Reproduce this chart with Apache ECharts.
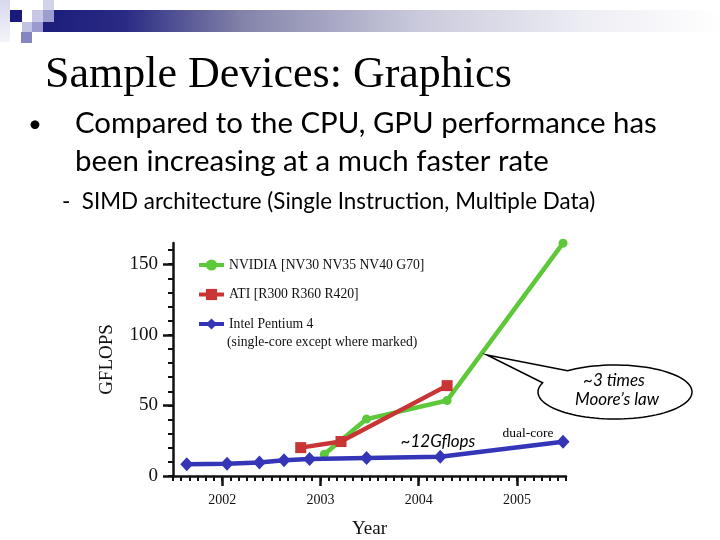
<!DOCTYPE html>
<html>
<head>
<meta charset="utf-8">
<script src="https://cdn.jsdelivr.net/npm/echarts@6/dist/echarts.min.js"></script>
<style>
  html, body { margin: 0; padding: 0; background: #fff; }
  #chart { width: 720px; height: 540px; }
</style>
</head>
<body>
<div id="chart"></div>
<script>
// GFLOPS by release date, [year, gflops]
const nvidiaData = [[2003.04, 15.4], [2003.47, 40.3], [2004.29, 53.5], [2005.47, 164.9]];
const atiData = [[2002.80, 20.1], [2003.21, 24.4], [2004.29, 64.0]];
const intelData = [[2001.64, 8.3], [2002.05, 8.7], [2002.38, 9.5], [2002.63, 11.1],
    [2002.89, 12.1], [2003.47, 12.8], [2004.22, 13.7], [2005.47, 24.2]];

const seriesNames = ['NVIDIA [NV30 NV35 NV40 G70]', 'ATI [R300 R360 R420]', 'Intel Pentium 4'];
const yearTicks = [2002, 2003, 2004, 2005];
const gflopsTicks = [0, 50, 100, 150];

const X_MIN = 2001.5, X_MAX = 2005.5, Y_MIN = 0, Y_MAX = 165;

// month ticks along the year axis, 10-unit ticks along the GFLOPS axis
const monthTicks = [];
for (let k = 0; k <= 48; k++) monthTicks.push(X_MIN + k / 12);
const minorGflops = [];
for (let v = 0; v <= 160; v += 10) minorGflops.push(v);

const serif = '"Liberation Serif", "DejaVu Serif", serif';
const sans = 'Lato, "Open Sans", sans-serif';

// callout bubble outline: ellipse with a tail
function bubble(cx, cy, rx, ry, a1, a2, tip) {
    const pts = [tip];
    const n = 90;
    for (let i = 0; i <= n; i++) {
        const a = (a1 + (a2 - a1) * i / n) * Math.PI / 180;
        pts.push([cx + rx * Math.cos(a), cy + ry * Math.sin(a)]);
    }
    return pts;
}

function axisPair(dim, ticksMinor, ticksMajor, extra) {
    const base = {
        type: 'value',
        min: dim === 'x' ? X_MIN : Y_MIN,
        max: dim === 'x' ? X_MAX : Y_MAX,
        position: dim === 'x' ? 'bottom' : 'left',
        splitLine: { show: false }
    };
    return [
        Object.assign({}, base, {
            axisLine: { show: true, lineStyle: { color: '#111', width: 2.5 } },
            axisTick: { show: true, customValues: ticksMinor, length: 5, lineStyle: { color: '#111', width: 2 } },
            axisLabel: { show: false }
        }),
        Object.assign({}, base, {
            axisLine: { show: false },
            axisTick: { show: true, customValues: ticksMajor, length: 10, lineStyle: { color: '#111', width: 2.5 } },
            axisLabel: Object.assign({
                show: true, customValues: ticksMajor, color: '#111', fontFamily: serif,
                formatter: v => String(Math.round(v))
            }, extra.label)
        }, extra.axis)
    ];
}

const chart = echarts.init(document.getElementById('chart'));

chart.setOption({
    animation: false,
    backgroundColor: '#fff',
    grid: { left: 173, right: 154, top: 243, bottom: 64, containLabel: false },
    xAxis: axisPair('x', monthTicks, yearTicks, {
        label: { fontSize: 14, margin: 17 },
        axis: { name: 'Year', nameLocation: 'middle', nameGap: 44,
            nameTextStyle: { fontFamily: serif, fontSize: 19, color: '#111' } }
    }),
    yAxis: axisPair('y', minorGflops, gflopsTicks, {
        label: { fontSize: 19, margin: 15 },
        axis: { name: 'GFLOPS', nameLocation: 'middle', nameGap: 56, nameRotate: 90,
            nameTextStyle: { fontFamily: serif, fontSize: 19, color: '#111' } }
    }),
    legend: {
        orient: 'vertical',
        left: 197,
        top: 258,
        padding: 0,
        itemWidth: 25,
        itemHeight: 14,
        itemGap: 15.5,
        lineStyle: { width: 4 },
        textStyle: { fontFamily: serif, fontSize: 13.7, color: '#111' },
        data: seriesNames
    },
    series: [
        {
            name: seriesNames[0], type: 'line', data: nvidiaData,
            symbol: 'circle', symbolSize: 9, z: 3,
            itemStyle: { color: '#5cc83a' },
            lineStyle: { color: '#5cc83a', width: 4.5 }
        },
        {
            name: seriesNames[1], type: 'line', data: atiData,
            symbol: 'rect', symbolSize: 11, z: 4,
            itemStyle: { color: '#c93434' },
            lineStyle: { color: '#c93434', width: 4.5 }
        },
        {
            name: seriesNames[2], type: 'line', data: intelData,
            symbol: 'diamond', symbolSize: [13, 14], z: 5,
            itemStyle: { color: '#3535b8' },
            lineStyle: { color: '#3535b8', width: 4.5 }
        }
    ],
    graphic: [
        // header decoration
        { type: 'rect', shape: { x: 43, y: 10, width: 677, height: 22 },
          style: { fill: new echarts.graphic.LinearGradient(0, 0, 1, 0, [
              { offset: 0, color: '#1c1c7c' },
              { offset: 0.12, color: '#2a2a84' },
              { offset: 0.3, color: '#8585ab' },
              { offset: 0.55, color: '#c9c9dc' },
              { offset: 0.8, color: '#ededf4' },
              { offset: 1, color: '#ffffff' }]) } },
        { type: 'rect', shape: { x: 0, y: 0, width: 10, height: 42 },
          style: { fill: new echarts.graphic.LinearGradient(0, 0, 0, 1, [
              { offset: 0, color: '#d8d8ee' }, { offset: 1, color: '#f4f4fa' }]) } },
        { type: 'rect', shape: { x: 10, y: 10, width: 12, height: 12 }, style: { fill: '#1a1a7a' } },
        { type: 'rect', shape: { x: 43, y: 0, width: 11, height: 10 }, style: { fill: '#d2d2ea' } },
        { type: 'rect', shape: { x: 32, y: 10, width: 11, height: 12 }, style: { fill: '#c8c8e6' } },
        { type: 'rect', shape: { x: 43, y: 10, width: 11, height: 12 }, style: { fill: '#9d9dcf' } },
        { type: 'rect', shape: { x: 22, y: 22, width: 10, height: 10 }, style: { fill: '#c2c2e2' } },
        { type: 'rect', shape: { x: 32, y: 22, width: 11, height: 10 }, style: { fill: '#9a9ad0' } },
        { type: 'rect', shape: { x: 21, y: 32, width: 11, height: 11 }, style: { fill: '#8585c2' } },

        // slide text
        { type: 'text', x: 45, y: 75,
          style: { text: 'Sample Devices: Graphics', font: '44px ' + serif, fill: '#000', textVerticalAlign: 'middle' } },
        { type: 'text', x: 28, y: 124,
          style: { text: '•', font: '24px ' + sans, fill: '#000', textVerticalAlign: 'middle' } },
        { type: 'text', x: 75, y: 124,
          style: { text: 'Compared to the CPU, GPU performance has', font: '29.4px ' + sans, fill: '#000', textVerticalAlign: 'middle' } },
        { type: 'text', x: 75, y: 162,
          style: { text: 'been increasing at a much faster rate', font: '29.4px ' + sans, fill: '#000', textVerticalAlign: 'middle' } },
        { type: 'text', x: 62, y: 202,
          style: { text: '-  SIMD architecture (Single Instruction, Multiple Data)', font: '22.4px ' + sans, fill: '#000', textVerticalAlign: 'middle' } },

        // legend second line
        { type: 'text', x: 227, y: 342,
          style: { text: '(single-core except where marked)', font: '13.7px ' + serif, fill: '#111', textVerticalAlign: 'middle' } },

        // annotations
        { type: 'text', x: 438, y: 442,
          style: { text: '~12Gflops', font: 'italic 17px ' + sans, fill: '#000', textAlign: 'center', textVerticalAlign: 'middle' } },
        { type: 'text', x: 528, y: 433,
          style: { text: 'dual-core', font: '13.5px ' + serif, fill: '#000', textAlign: 'center', textVerticalAlign: 'middle' } },
        { type: 'polygon', z: 10,
          shape: { points: bubble(615, 392, 77, 27, 232, 560, [487, 355]) },
          style: { fill: '#fff', stroke: '#000', lineWidth: 1.5 } },
        { type: 'text', x: 614, y: 381, z: 11,
          style: { text: '~3 times', font: 'italic 17px ' + sans, fill: '#000', textAlign: 'center', textVerticalAlign: 'middle' } },
        { type: 'text', x: 617, y: 400, z: 11,
          style: { text: 'Moore’s law', font: 'italic 17px ' + sans, fill: '#000', textAlign: 'center', textVerticalAlign: 'middle' } }
    ]
});
</script>
</body>
</html>
